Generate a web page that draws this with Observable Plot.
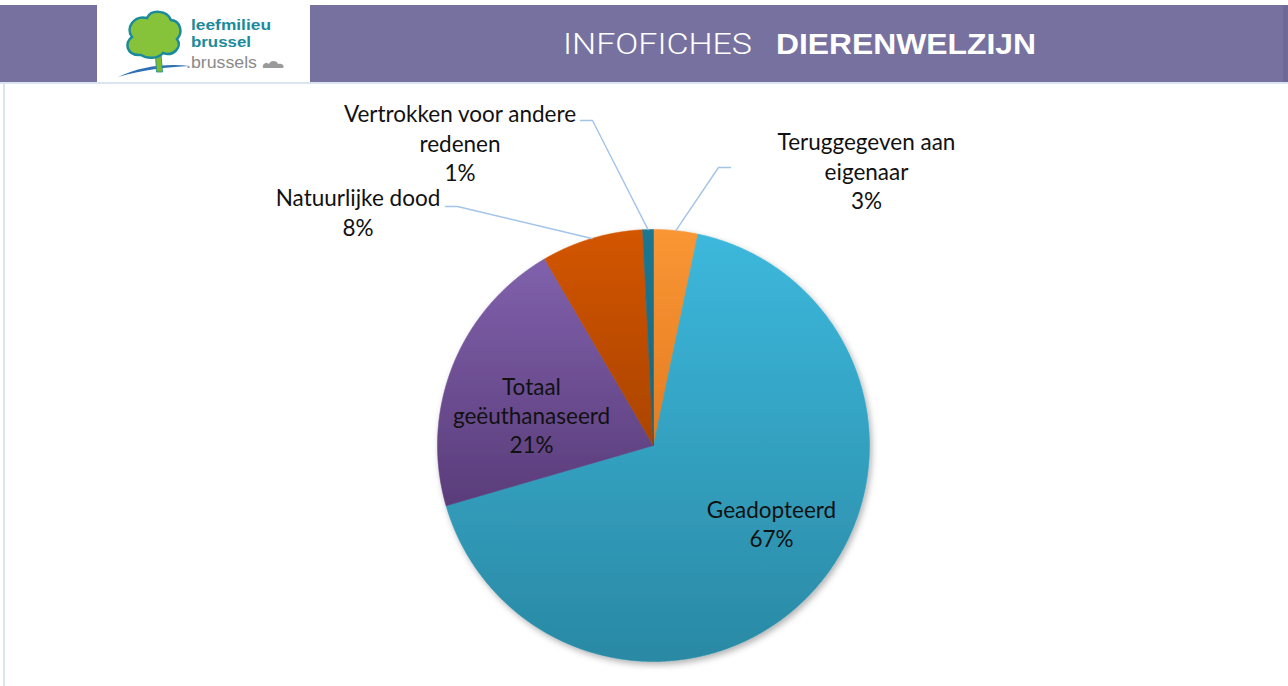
<!DOCTYPE html>
<html>
<head>
<meta charset="utf-8">
<script src="https://cdn.jsdelivr.net/npm/d3@7"></script>
<script src="https://cdn.jsdelivr.net/npm/@observablehq/plot@0.6"></script>
<style>
  html, body { margin: 0; padding: 0; background: #fff; }
  #page { position: relative; width: 1288px; height: 686px; overflow: hidden; }
  #header { position: absolute; left: 0; top: 0; }
  #chart { position: absolute; left: 0; top: 84px; }
  #leftborder { position: absolute; left: 3px; top: 84px; width: 2px; height: 602px; background: #dbe5f1; }
</style>
</head>
<body>
<div id="page">
  <svg id="header" width="1288" height="84">
    <rect x="0" y="5" width="1288" height="77" fill="#7771a0"/>
    <rect x="1283" y="5" width="5" height="77" fill="#6f6998"/>
    <rect x="97" y="5" width="213" height="77" fill="#ffffff"/>
    <rect x="0" y="82" width="1288" height="2" fill="#dbe5f1"/>
    <!-- logo -->
    <path d="M118,77 C140,66 168,63 190,66 C166,67 142,70 118,77 Z" fill="#2f6fb4"/>
    <path d="M155,48 L156.5,72 L162.5,72 L160.5,48 Z" fill="#7dbb2e" stroke="#1b8a9c" stroke-width="0.8"/>
    <path d="M141,55 C126,56 124,42 132,37 C125,28 134,15 147,18 C151,9 167,10 171,20 C181,21 183,33 177,39 C183,47 173,57 163,53 C158,59 147,59 141,55 Z" fill="#86c23a" stroke="#1b8a9c" stroke-width="2.5"/>
    <text x="191" y="30" font-family="Liberation Sans, Arial, sans-serif" font-weight="bold" font-size="15" fill="#1b8a9c" textLength="80" lengthAdjust="spacingAndGlyphs">leefmilieu</text>
    <text x="191" y="47" font-family="Liberation Sans, Arial, sans-serif" font-weight="bold" font-size="15" fill="#1b8a9c" textLength="60" lengthAdjust="spacingAndGlyphs">brussel</text>
    <text x="186" y="68" font-family="Liberation Sans, Arial, sans-serif" font-size="16" fill="#8a8a8a" textLength="71" lengthAdjust="spacingAndGlyphs">.brussels</text>
    <path d="M263,68 C262,63 267,62 269,64 C270,60 277,60 278,64 C282,63 285,66 283,68 Z" fill="#9a9a9a"/>
    <text x="563" y="54" font-family="Roboto, Liberation Sans, Arial, sans-serif" font-weight="300" font-size="29" fill="#ffffff" textLength="189" lengthAdjust="spacingAndGlyphs">INFOFICHES</text>
    <text x="776" y="54" font-family="Liberation Sans, Arial, sans-serif" font-weight="bold" font-size="29" fill="#ffffff" textLength="260" lengthAdjust="spacingAndGlyphs">DIERENWELZIJN</text>
  </svg>
  <div id="chart"></div>
  <div id="leftborder"></div>
</div>
<script>
// ---- data ----
const categories = [
  "Teruggegeven aan\neigenaar",
  "Geadopteerd",
  "Totaal\ngeëuthanaseerd",
  "Natuurlijke dood",
  "Vertrokken voor andere\nredenen"
];
const values = [3.3, 67.2, 21.1, 7.6, 0.8];
const colorsTop = ["#fa9634", "#3cb8dc", "#8061ac", "#d35500", "#1d7791"];
const colorsBottom = ["#e47c22", "#2a89a4", "#5a3c7a", "#aa4400", "#17647b"];

// ---- layout (plot pixel space; y downward) ----
const W = 1288, H = 602;
const pie = {cx: 653, cy: 361, r: 216};
const FS = 22.5;          // label font size
const LINE = 29.3;        // label line spacing (px)
// label block: centre x and baseline of last line
const labelLayout = [
  {x: 866, y: 124.5},
  {x: 771, y: 462.7},
  {x: 531, y: 368.7},
  {x: 357.5, y: 151},
  {x: 459.5, y: 96.5}
];
// leader lines: start point and elbow (end is on the slice edge)
const leaderLayout = [
  {i: 0, x0: 730, y0: 83, x1: 718, y1: 83},
  {i: 3, x0: 445, y0: 122, x1: 457, y1: 122},
  {i: 4, x0: 580, y0: 36, x1: 592, y1: 36}
];

// ---- geometry from data ----
const total = d3.sum(values);
const angles = [];
let acc = 0;
values.forEach(v => { const a0 = acc / total * 2 * Math.PI; acc += v; angles.push([a0, acc / total * 2 * Math.PI]); });
const px = a => pie.cx + pie.r * Math.sin(a);
const py = a => pie.cy - pie.r * Math.cos(a);

const slicePts = [];
angles.forEach(([a0, a1], i) => {
  const fill = `url(#g${i})`;
  slicePts.push({key: i, x: pie.cx, y: pie.cy, fill});
  const n = Math.max(2, Math.ceil((a1 - a0) / (0.25 * Math.PI / 180)));
  for (let k = 0; k <= n; k++) {
    const a = a0 + (a1 - a0) * k / n;
    slicePts.push({key: i, x: px(a), y: py(a), fill});
  }
  slicePts.push({key: i, x: pie.cx, y: pie.cy, fill});
});

const labels = categories.map((c, i) => ({
  x: labelLayout[i].x, y: labelLayout[i].y,
  text: c + "\n" + Math.round(values[i] / total * 100) + "%"
}));

const leaderPts = [];
leaderLayout.forEach(l => {
  const am = (angles[l.i][0] + angles[l.i][1]) / 2;
  leaderPts.push({key: l.i, x: l.x0, y: l.y0});
  leaderPts.push({key: l.i, x: l.x1, y: l.y1});
  leaderPts.push({key: l.i, x: px(am), y: py(am)});
});

const chart = Plot.plot({
  width: W, height: H, margin: 0,
  style: {background: "transparent", overflow: "visible"},
  x: {domain: [0, W], range: [0, W], axis: null},
  y: {domain: [0, H], range: [0, H], axis: null},
  color: {type: "identity"},
  marks: [
    Plot.line(slicePts, {x: "x", y: "y", z: "key", fill: "fill", stroke: "fill", strokeWidth: 0.6, curve: "linear"}),
    Plot.line(leaderPts, {x: "x", y: "y", z: "key", stroke: "#a3c4e8", strokeWidth: 1.4, curve: "linear"}),
    Plot.text(labels, {x: "x", y: "y", text: "text", textAnchor: "middle", lineAnchor: "bottom",
      lineHeight: LINE / FS, fontSize: FS, fontFamily: "Lato, 'Open Sans', sans-serif", fill: "#111111"})
  ]
});

const svg = d3.select(chart);
const defs = svg.insert("defs", ":first-child");
colorsTop.forEach((c, i) => {
  const g = defs.append("linearGradient").attr("id", `g${i}`).attr("x1", 0).attr("y1", 0).attr("x2", 0).attr("y2", 1);
  g.append("stop").attr("offset", "0%").attr("stop-color", c);
  g.append("stop").attr("offset", "100%").attr("stop-color", colorsBottom[i]);
});
const f = defs.append("filter").attr("id", "shadow").attr("x", "-10%").attr("y", "-10%").attr("width", "120%").attr("height", "120%");
f.append("feDropShadow").attr("dx", 2).attr("dy", 3).attr("stdDeviation", 3).attr("flood-color", "#000").attr("flood-opacity", 0.3);
svg.select("g[aria-label='line']").attr("filter", "url(#shadow)");

document.getElementById("chart").appendChild(chart);
</script>
</body>
</html>
